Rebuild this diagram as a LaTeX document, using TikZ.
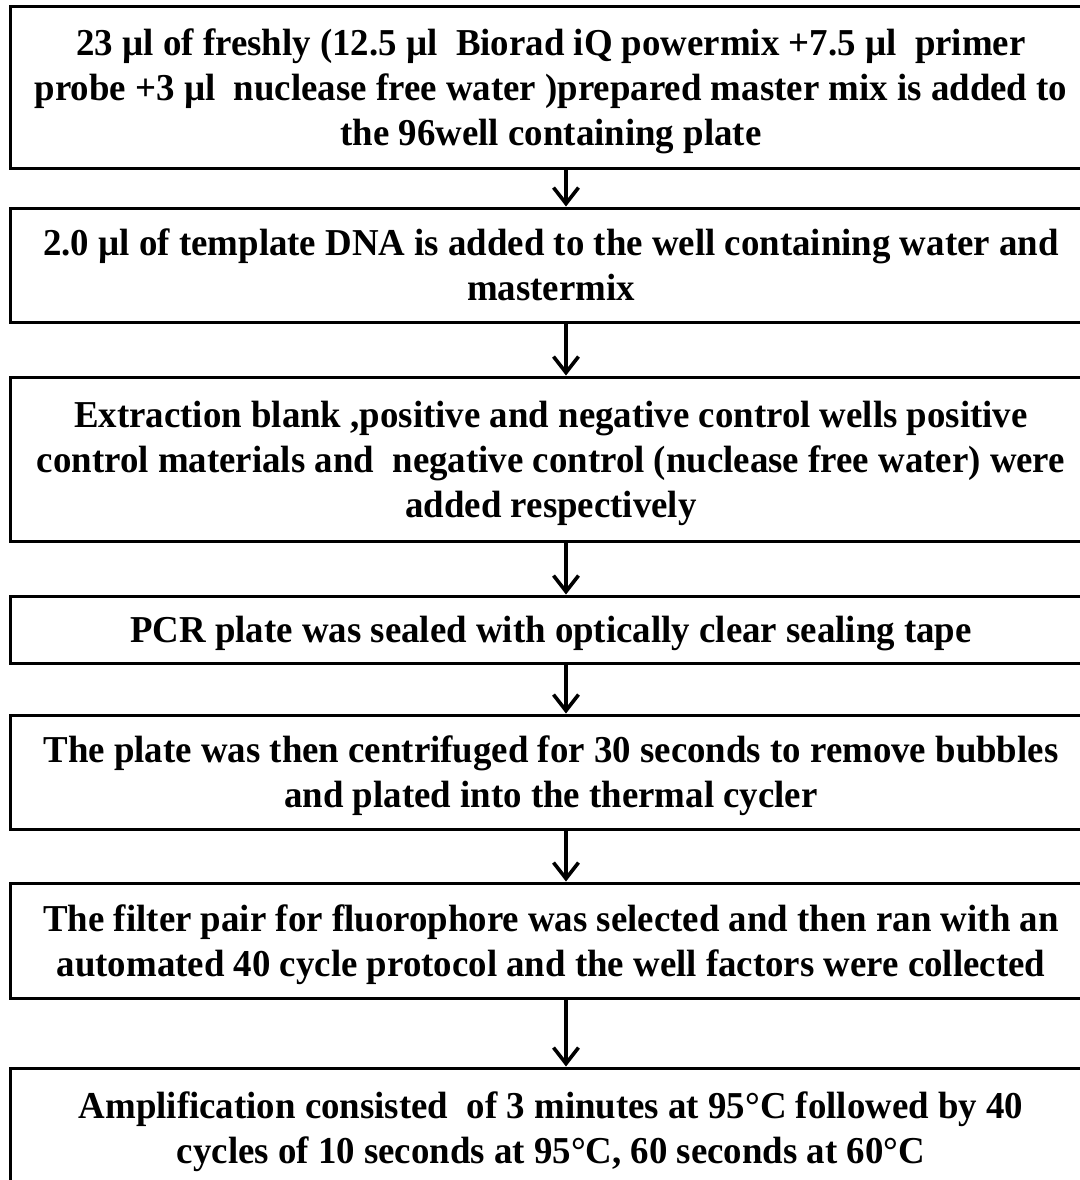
\documentclass[tikz,border=0pt]{standalone}
\usepackage{fontspec}
\setmainfont{Liberation Serif}[FakeStretch=0.97]
\usetikzlibrary{arrows.meta}

\newcommand{\topgap}{\rule{0pt}{18pt}}

\tikzset{
  stepbox/.style={draw, line width=1.5pt, inner sep=0pt, minimum width=541pt,
    align=center, font=\fontsize{19}{22.5}\selectfont\bfseries,
    execute at end node={\rule[-5pt]{0pt}{0pt}}},
  flow/.style={line width=1.6pt,
    -{Straight Barb[length=8pt,width=12.5pt,line width=1.8pt]}}
}

\begin{document}
\begin{tikzpicture}[x=0.5pt, y=-0.5pt]
\useasboundingbox (0, 0) rectangle (1080, 1180);

% steps of the protocol
\node[stepbox, minimum height=81pt] (mix) at (551, 87)
  {\topgap 23 µl of freshly (12.5 µl\ \ Biorad iQ powermix +7.5 µl\ \ primer\\
   probe +3 µl\ \ nuclease free water )prepared master mix is added to\\
   the 96well containing plate};
\node[stepbox, minimum height=57pt] (dna) at (551, 265)
  {\topgap 2.0 µl of template DNA is added to the well containing water and\\
   mastermix};
\node[stepbox, minimum height=82pt] (ctrl) at (551, 459)
  {\topgap Extraction blank ,positive and negative control wells positive\\
   control materials and\ \ negative control (nuclease free water) were\\
   added respectively};
\node[stepbox, minimum height=33.5pt] (seal) at (551, 629.5)
  {\topgap PCR plate was sealed with optically clear sealing tape};
\node[stepbox, minimum height=57pt] (spin) at (551, 772)
  {\topgap The plate was then centrifuged for 30 seconds to remove bubbles\\
   and plated into the thermal cycler};
\node[stepbox, minimum height=57.5pt] (run) at (551, 940.5)
  {\topgap The filter pair for fluorophore was selected and then ran with an\\
   automated 40 cycle protocol and the well factors were collected};
\node[stepbox, minimum height=60pt] (amp) at (551, 1128)
  {\topgap Amplification consisted\ \ of 3 minutes at 95°C followed by 40\\
   cycles of 10 seconds at 95°C, 60 seconds at 60°C};

% arrows
\draw[flow] ([xshift=7.5pt]mix.south) -- ([xshift=7.5pt]dna.north);
\draw[flow] ([xshift=7.5pt]dna.south) -- ([xshift=7.5pt]ctrl.north);
\draw[flow] ([xshift=7.5pt]ctrl.south) -- ([xshift=7.5pt]seal.north);
\draw[flow] ([xshift=7.5pt]seal.south) -- ([xshift=7.5pt]spin.north);
\draw[flow] ([xshift=7.5pt]spin.south) -- ([xshift=7.5pt]run.north);
\draw[flow] ([xshift=7.5pt]run.south) -- ([xshift=7.5pt]amp.north);
\end{tikzpicture}
\end{document}
